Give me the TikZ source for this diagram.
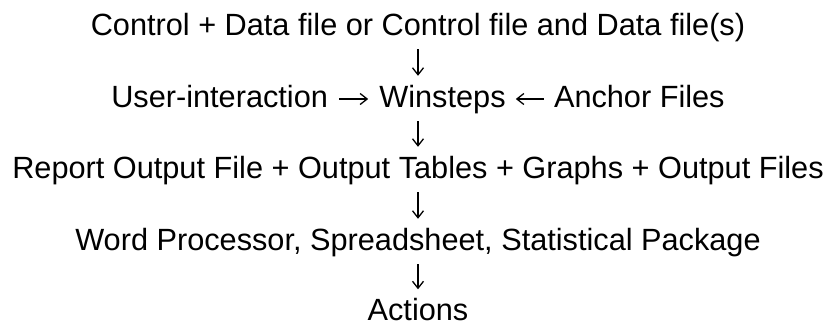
\documentclass[tikz,border=0pt]{standalone}
\usepackage{fontspec}
\setmainfont{Liberation Sans}
\usetikzlibrary{arrows.meta,positioning}
\begin{document}
\begin{tikzpicture}[x=1pt, y=1pt,
		riga/.style={anchor=base, inner sep=0pt, text height=23pt, text depth=7pt, font=\fontsize{30.7}{36}\selectfont},
		flusso/.style={->, line width=1.3pt, shorten <=7pt, shorten >=8pt}]
	\tikzset{>={Straight Barb[length=7pt,width=11pt]}}
	\useasboundingbox (0,0) rectangle (828,-325);
	
	% Righe di testo
	\node[riga] (input) at (418,-35) {Control + Data file or Control file and Data file(s)};
	\node[riga] (win) at (442.5,-107) {Winsteps};
	\node[riga, left=51pt of win] (user) {User-interaction};
	\node[riga, right=48pt of win] (anchorf) {Anchor Files};
	\node[riga] (report) at (418,-178) {Report Output File + Output Tables + Graphs + Output Files};
	\node[riga] (soft) at (418,-250) {Word Processor, Spreadsheet, Statistical Package};
	\node[riga, text depth=0pt] (act) at (418,-320.5) {Actions};
	
	% Frecce verticali
	\draw[flusso] (input.south) -- (input.south |- win.north);
	\foreach \a/\b in {win/report, report/soft, soft/act}
		\draw[flusso] (\b.north |- \a.south) -- (\b.north);
	
	% Frecce orizzontali
	\draw[flusso, shorten <=11pt, shorten >=11pt] (user.east) -- (win.west);
	\draw[flusso, shorten <=10pt, shorten >=10pt] (anchorf.west) -- (win.east);
\end{tikzpicture}
\end{document}
